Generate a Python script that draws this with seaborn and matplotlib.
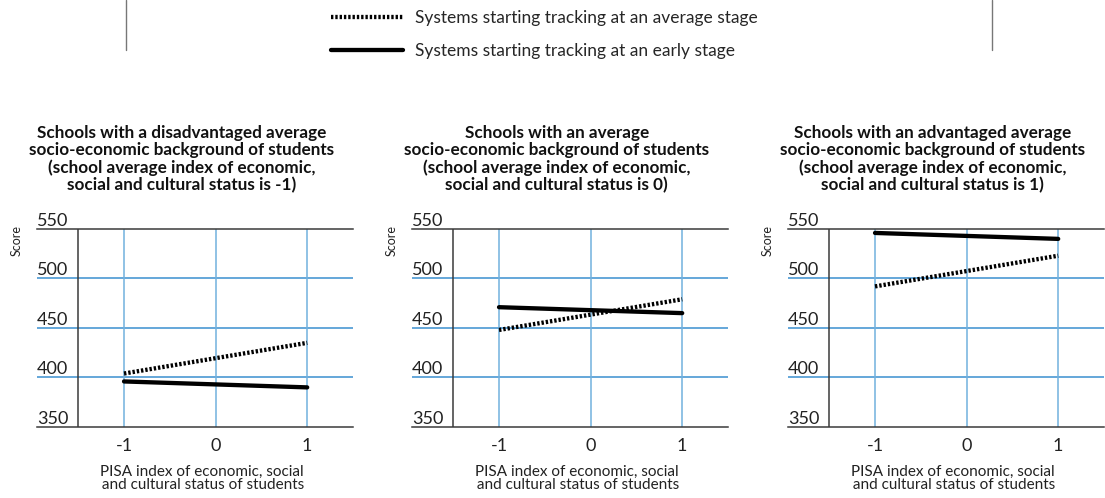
import pandas as pd
import matplotlib
matplotlib.use('Agg')
import matplotlib.pyplot as plt
from matplotlib.lines import Line2D
import seaborn as sns

# --- Datos ---
escs = [-1, 1]
panel_titles = [
    "Schools with a disadvantaged average\nsocio-economic background of students\n(school average index of economic,\nsocial and cultural status is -1)",
    "Schools with an average\nsocio-economic background of students\n(school average index of economic,\nsocial and cultural status is 0)",
    "Schools with an advantaged average\nsocio-economic background of students\n(school average index of economic,\nsocial and cultural status is 1)",
]
stages = ["Systems starting tracking at an average stage",
          "Systems starting tracking at an early stage"]
score_average_stage = [[404, 435], [448, 479], [492, 523]]
score_early_stage = [[396, 390], [471, 465], [546, 540]]
y_ticks = [350, 400, 450, 500, 550]
x_ticks = [-1, 0, 1]

rows = []
for p in range(3):
    for i, x in enumerate(escs):
        rows.append({'panel': p, 'stage': stages[0], 'escs': x, 'score': score_average_stage[p][i]})
        rows.append({'panel': p, 'stage': stages[1], 'escs': x, 'score': score_early_stage[p][i]})
df = pd.DataFrame(rows)

sns.set_style("white")
plt.rcParams['font.family'] = ['Lato', 'DejaVu Sans']

fig = plt.figure(figsize=(11.05, 4.98), dpi=100)

grid_blue = '#3b8fcf'
grid_blue_v = '#72b2de'
frame_col = '#3a3a3a'
lefts = [37, 412, 788]

for p in range(3):
    ax = fig.add_axes([lefts[p] / 1105, 0.1426, 316 / 1105, 0.3976])
    sub = df[df['panel'] == p]
    sns.lineplot(data=sub, x='escs', y='score', style='stage', style_order=stages,
                 dashes={stages[0]: (0.55, 0.45), stages[1]: ''},
                 color='black', linewidth=3.1, legend=False, ax=ax, zorder=5)

    ax.set_xlim(-1.95, 1.5)
    ax.set_ylim(350, 550)
    ax.set_xticks(x_ticks)
    ax.set_xticklabels(['-1', '0', '1'], fontsize=13)
    ax.set_yticks(y_ticks)
    ax.set_yticklabels([str(v) for v in y_ticks], fontsize=13)
    ax.tick_params(axis='x', length=0, pad=8, colors='#222222')
    ax.tick_params(axis='y', length=0, pad=0, colors='#222222')
    for lab in ax.get_yticklabels():
        lab.set_ha('left')
        lab.set_va('bottom')

    # rejilla azul
    for v in [400, 450, 500]:
        ax.axhline(v, color=grid_blue, lw=1.1, zorder=1)
    for v in x_ticks:
        ax.axvline(v, color=grid_blue_v, lw=1.1, zorder=1)
    ax.axvline(-1.5, color=frame_col, lw=1.1, zorder=2)

    for s in ['left', 'right']:
        ax.spines[s].set_visible(False)
    for s in ['top', 'bottom']:
        ax.spines[s].set_color(frame_col)
        ax.spines[s].set_linewidth(1.1)

    ax.set_xlabel("PISA index of economic, social\n and cultural status of students",
                  fontsize=11, color='#222222', linespacing=0.95)
    ax.xaxis.set_label_coords(0.52, -0.19)
    ax.set_ylabel('Score', fontsize=9, color='#222222', loc='top')
    ax.yaxis.set_label_coords(-0.045, 1.02)

    ax.set_title(panel_titles[p], fontsize=12.3, fontweight='bold', x=0.458, y=1.18,
                 va='bottom', pad=0, linespacing=1.08, color='#111111')

# leyenda superior
handles = [Line2D([], [], color='black', lw=3.1, dashes=(0.55, 0.45), dash_capstyle='butt'),
           Line2D([], [], color='black', lw=3.1)]
fig.legend(handles, stages, loc='upper left', bbox_to_anchor=(321 / 1105, 1.0),
           frameon=False, fontsize=12.5, handlelength=4.1, handletextpad=0.7,
           labelspacing=0.95, borderpad=0.1)

fig.add_artist(Line2D([126 / 1105, 126 / 1105], [1.0, 1 - 50 / 498], color='#777777', lw=1))
fig.add_artist(Line2D([992 / 1105, 992 / 1105], [1.0, 1 - 50 / 498], color='#777777', lw=1))

fig.savefig('out.png', dpi=100)
